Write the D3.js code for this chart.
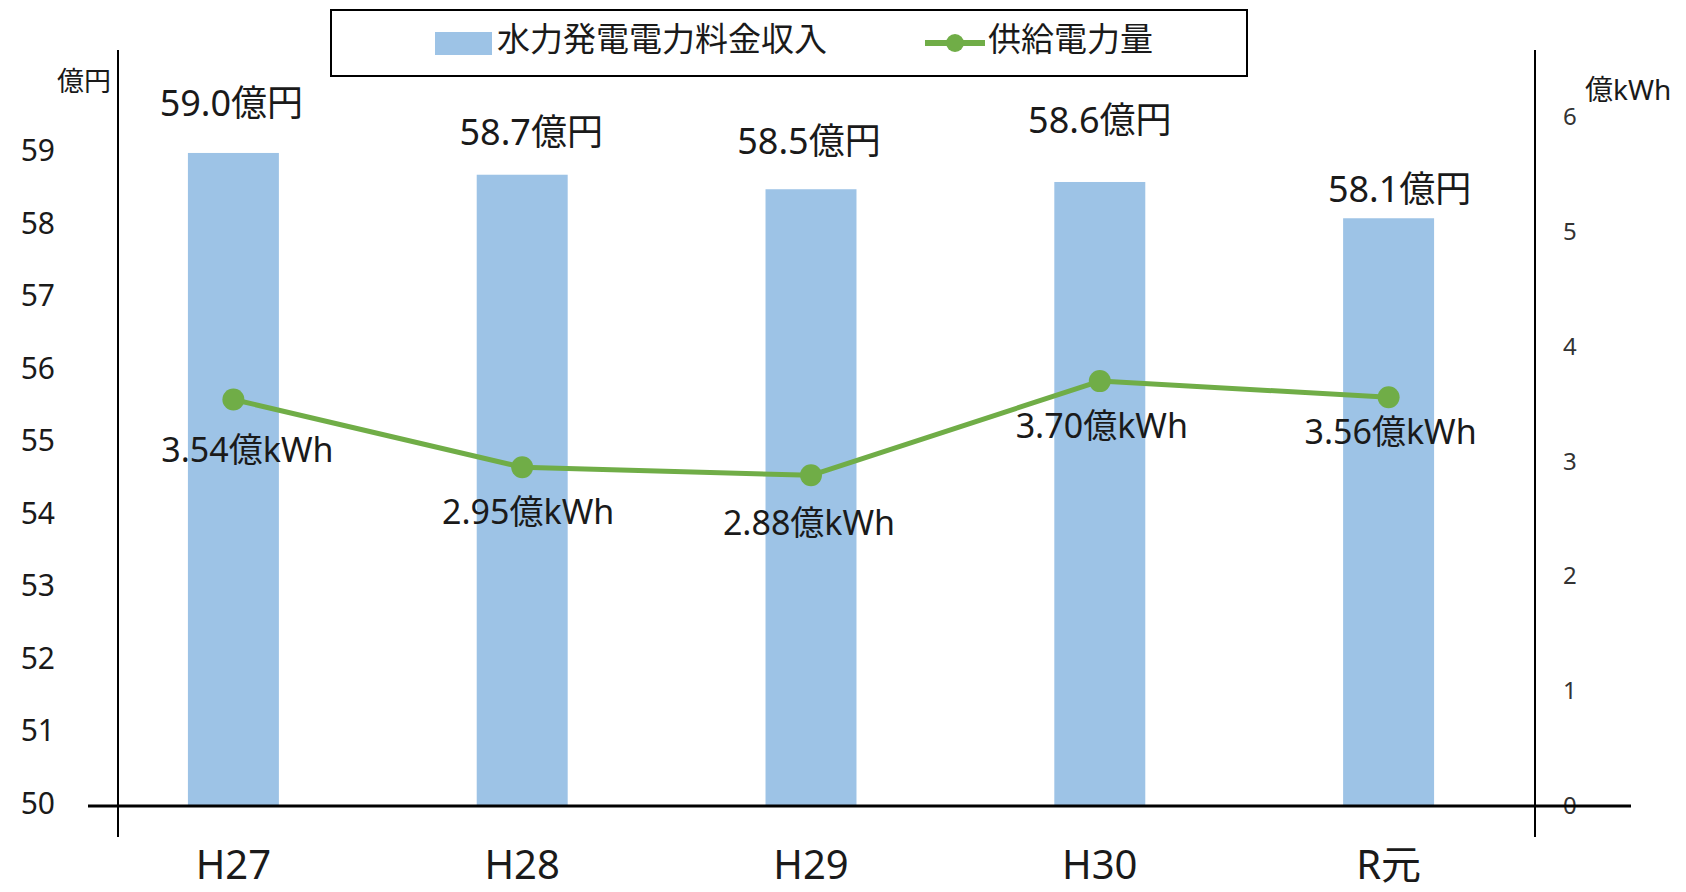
<!DOCTYPE html>
<html>
<head>
<meta charset="utf-8">
<script src="https://cdn.jsdelivr.net/npm/d3@7"></script>
<style>
  html, body { margin: 0; padding: 0; background: #fff; }
  svg { display: block; font-family: "Noto Sans", "Noto Sans CJK JP", sans-serif; }
</style>
</head>
<body>
<div id="chart"></div>
<script>
// Hydro power revenue (bars, left axis) and supplied energy (line, right axis)

const years = ['H27', 'H28', 'H29', 'H30', 'R元'];
const revenue = [59.0, 58.7, 58.5, 58.6, 58.1];      // 億円
const supply = [3.54, 2.95, 2.88, 3.70, 3.56];       // 億kWh
const leftTicks = [50, 51, 52, 53, 54, 55, 56, 57, 58, 59];
const rightTicks = [0, 1, 2, 3, 4, 5, 6];

const barName = '水力発電電力料金収入';
const lineName = '供給電力量';

// label nudges (the original labels were placed by hand)
const barLabelLift = [37, 30, 35, 49, 16];
const barLabelDx = [-2, 9, -2, 0, 11];
const lineLabelDrop = [63, 57, 60, 57, 47];
const lineLabelDx = [14, 6, -2, 2, 2];

const W = 1686, H = 892;
const BAR_COLOR = '#9dc3e6';
const LINE_COLOR = '#70ad47';
const TEXT = '#1a1a1a';

const svg = d3.select('#chart').append('svg')
    .attr('width', W)
    .attr('height', H);

const x = d3.scaleBand()
    .domain(years)
    .range([89, 1533])
    .paddingInner(0.685)
    .paddingOuter(0.3425);

const yL = d3.scaleLinear().domain([50, 60]).range([806, 80.4]);
const yR = d3.scaleLinear().domain([0, 6]).range([806, 117]);

// bars
svg.selectAll('rect.bar')
    .data(revenue)
    .enter()
    .append('rect')
    .attr('class', 'bar')
    .attr('x', (d, i) => x(years[i]))
    .attr('y', d => yL(d))
    .attr('width', x.bandwidth())
    .attr('height', d => yL(50) - yL(d))
    .attr('fill', BAR_COLOR);

// bar value labels
svg.selectAll('text.barlab')
    .data(revenue)
    .enter()
    .append('text')
    .attr('x', (d, i) => x(years[i]) + x.bandwidth() / 2 + barLabelDx[i])
    .attr('y', (d, i) => yL(d) - barLabelLift[i])
    .attr('text-anchor', 'middle')
    .attr('font-size', '36px')
    .attr('fill', TEXT)
    .text(d => d.toFixed(1) + '億円');

// axes lines
svg.append('line')
    .attr('x1', 118).attr('x2', 118).attr('y1', 50).attr('y2', 837)
    .attr('stroke', '#000').attr('stroke-width', 2);
svg.append('line')
    .attr('x1', 1535).attr('x2', 1535).attr('y1', 50).attr('y2', 837)
    .attr('stroke', '#000').attr('stroke-width', 2);

// left tick labels
svg.selectAll('text.lt')
    .data(leftTicks)
    .enter()
    .append('text')
    .attr('x', 55)
    .attr('y', d => yL(d) + 8)
    .attr('text-anchor', 'end')
    .attr('font-size', '30px')
    .attr('fill', TEXT)
    .text(d => d);

// right tick labels
svg.selectAll('text.rt')
    .data(rightTicks)
    .enter()
    .append('text')
    .attr('x', 1563)
    .attr('y', d => yR(d) + 8)
    .attr('font-size', '24px')
    .attr('fill', '#333')
    .text(d => d);

// axis unit titles
svg.append('text')
    .attr('x', 111).attr('y', 91)
    .attr('text-anchor', 'end')
    .attr('font-size', '27px')
    .attr('fill', TEXT)
    .text('億円');
svg.append('text')
    .attr('x', 1585).attr('y', 100)
    .attr('font-size', '28px')
    .attr('fill', TEXT)
    .text('億kWh');

// baseline (drawn over bars and the "0")
svg.append('line')
    .attr('x1', 88).attr('x2', 1631).attr('y1', 806).attr('y2', 806)
    .attr('stroke', '#000').attr('stroke-width', 3);

// category labels
svg.selectAll('text.cat')
    .data(years)
    .enter()
    .append('text')
    .attr('x', d => x(d) + x.bandwidth() / 2)
    .attr('y', 879)
    .attr('text-anchor', 'middle')
    .attr('font-size', '40px')
    .attr('fill', TEXT)
    .text(d => d);

// supply line
const line = d3.line()
    .x((d, i) => x(years[i]) + x.bandwidth() / 2)
    .y(d => yR(d));

svg.append('path')
    .datum(supply)
    .attr('fill', 'none')
    .attr('stroke', LINE_COLOR)
    .attr('stroke-width', 5)
    .attr('stroke-linejoin', 'round')
    .attr('d', line);

svg.selectAll('circle.pt')
    .data(supply)
    .enter()
    .append('circle')
    .attr('cx', (d, i) => x(years[i]) + x.bandwidth() / 2)
    .attr('cy', d => yR(d))
    .attr('r', 11)
    .attr('fill', LINE_COLOR);

svg.selectAll('text.linelab')
    .data(supply)
    .enter()
    .append('text')
    .attr('x', (d, i) => x(years[i]) + x.bandwidth() / 2 + lineLabelDx[i])
    .attr('y', (d, i) => yR(d) + lineLabelDrop[i])
    .attr('text-anchor', 'middle')
    .attr('font-size', '34px')
    .attr('fill', TEXT)
    .text(d => d.toFixed(2) + '億kWh');

// legend
const legend = svg.append('g');
legend.append('rect')
    .attr('x', 331).attr('y', 10).attr('width', 916).attr('height', 66)
    .attr('fill', '#fff').attr('stroke', '#000').attr('stroke-width', 2);
legend.append('rect')
    .attr('x', 435).attr('y', 32).attr('width', 57).attr('height', 23)
    .attr('fill', BAR_COLOR);
legend.append('text')
    .attr('x', 497).attr('y', 51)
    .attr('font-size', '33px')
    .attr('fill', TEXT)
    .text(barName);
legend.append('line')
    .attr('x1', 925).attr('x2', 985).attr('y1', 43).attr('y2', 43)
    .attr('stroke', LINE_COLOR).attr('stroke-width', 6);
legend.append('circle')
    .attr('cx', 955).attr('cy', 43).attr('r', 9)
    .attr('fill', LINE_COLOR);
legend.append('text')
    .attr('x', 988).attr('y', 51)
    .attr('font-size', '33px')
    .attr('fill', TEXT)
    .text(lineName);
</script>
</body>
</html>
